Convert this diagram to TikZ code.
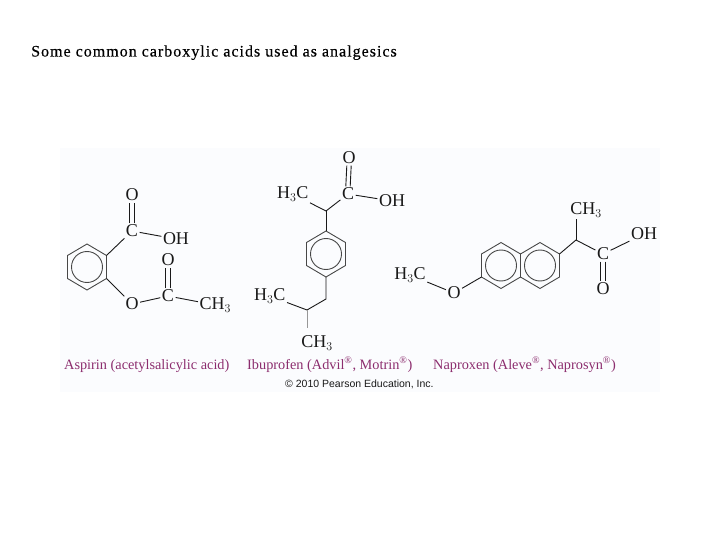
\documentclass[tikz,border=0pt]{standalone}
\usepackage{fontspec}
\setmainfont{Liberation Serif}
\setsansfont{Liberation Sans}
\newfontfamily\titlefont[LetterSpace=6.3,FakeBold=0.35]{Liberation Serif}
\definecolor{panel}{RGB}{251,252,254}
\definecolor{namecol}{RGB}{140,45,110}
\definecolor{inkcol}{RGB}{25,25,25}
\tikzset{
  atom/.style={font=\fontsize{18}{18}\selectfont,text=inkcol,inner sep=1.6pt,outer sep=0pt,yshift=-1pt},
  drugname/.style={font=\fontsize{14.3}{16}\selectfont,text=namecol,inner sep=0pt,anchor=base west},
  bond/.style={draw=inkcol,line width=0.9pt},
  ringb/.style={draw=inkcol!80,line width=0.9pt},
  ringc/.style={draw=inkcol!80,line width=0.9pt,circle,minimum size=31pt,inner sep=0pt},
  title/.style={font=\titlefont\fontsize{16}{18}\selectfont,text=black,inner sep=0pt,anchor=base west},
  credit/.style={font=\sffamily\fontsize{10.5}{12}\selectfont,text=inkcol,inner sep=0pt,anchor=base west}
}
\newcommand{\ringat}[2]{%
  \coordinate (#1a) at (#2,-23);
  \coordinate (#1b) at (#2+19.5,-11.5);
  \coordinate (#1c) at (#2+19.5,11.5);
  \coordinate (#1d) at (#2,23);
  \coordinate (#1e) at (#2-19.5,11.5);
  \coordinate (#1f) at (#2-19.5,-11.5);
}
\newcommand{\regmark}{\textsuperscript{\textregistered}}
\begin{document}
\begin{tikzpicture}[x=1pt,y=-1pt]
\useasboundingbox (0,0) rectangle (720,540);
\fill[panel] (60,148) rectangle (660,392);
\node[title] (heading) at (31,56.5) {Some common carboxylic acids used as analgesics};

% Aspirin
\begin{scope}[shift={(87,267)}]
\ringat{A}{0}
\draw[ringb] (Aa)--(Ab)--(Ac)--(Ad)--(Ae)--(Af)--cycle;
\node[ringc] (Acirc) at (0,0) {};
\end{scope}
\node[atom] (aC1) at (132,230) {C};
\node[atom] (aO1) at (132,194) {O};
\node[atom] (aOH) at (176,238) {OH};
\node[atom] (aO2) at (132,303) {O};
\node[atom] (aC2) at (168,295) {C};
\node[atom] (aO3) at (168,259) {O};
\node[atom,anchor=west] (aCH) at (198,304) {CH$_3$};
\draw[bond] (Ab) -- (aC1);
\draw[bond] (Ac) -- (aO2);
\draw[bond] (aC1) -- (aOH);
\draw[bond] (aO2) -- (aC2);
\draw[bond] (aC2) -- (aCH);
\draw[bond] ([xshift=-2.2pt]aC1.north) -- ([xshift=-2.2pt]aO1.south);
\draw[bond] ([xshift=2.2pt]aC1.north) -- ([xshift=2.2pt]aO1.south);
\draw[bond] ([xshift=-2.2pt]aC2.north) -- ([xshift=-2.2pt]aO3.south);
\draw[bond] ([xshift=2.2pt]aC2.north) -- ([xshift=2.2pt]aO3.south);

% Ibuprofen
\begin{scope}[shift={(326,254)}]
\ringat{B}{0}
\draw[ringb] (Ba)--(Bb)--(Bc)--(Bd)--(Be)--(Bf)--cycle;
\node[ringc] (Bcirc) at (0,0) {};
\end{scope}
\coordinate (bCH) at (326,211);
\coordinate (bCH2) at (326,299);
\coordinate (bCH3) at (307,310);
\node[atom] (bO) at (349,157) {O};
\node[atom] (bC) at (348,193) {C};
\node[atom] (bOH) at (392,200) {OH};
\node[atom,anchor=east] (bMe) at (310,193) {H$_3$C};
\node[atom,anchor=east] (bMe2) at (287,295) {H$_3$C};
\node[atom] (bMe3) at (317,342) {CH$_3$};
\draw[bond] (bMe) -- (bCH) -- (bC);
\draw[bond] (bCH) -- (Ba);
\draw[bond] (bC) -- (bOH);
\draw[bond] (Bd) -- (bCH2) -- (bCH3) -- (bMe2);
\draw[draw=inkcol!45,line width=0.9pt] (bCH3) -- (307,328);
\draw[bond] ([xshift=-2.2pt]bC.north) -- ([xshift=-2.2pt]bO.south);
\draw[bond] ([xshift=2.2pt]bC.north) -- ([xshift=2.2pt]bO.south);

% Naproxen
\begin{scope}[shift={(501,265.5)}]
\ringat{C}{0}
\draw[ringb] (Ca)--(Cb)--(Cc)--(Cd)--(Ce)--(Cf)--cycle;
\node[ringc] (Ccirc) at (0,0) {};
\end{scope}
\begin{scope}[shift={(540,265.5)}]
\ringat{D}{0}
\draw[ringb] (Da)--(Db)--(Dc)--(Dd)--(De)--(Df)--cycle;
\node[ringc] (Dcirc) at (0,0) {};
\end{scope}
\coordinate (cCH) at (576,240);
\node[atom] (cMeO) at (410,274) {H$_3$C};
\node[atom] (cO) at (454,292) {O};
\node[atom] (cMe) at (586,209) {CH$_3$};
\node[atom] (cC) at (603,253) {C};
\node[atom] (cOH) at (644,233) {OH};
\node[atom] (cO2) at (603,288) {O};
\draw[bond] (cMeO) -- (cO);
\draw[bond] (cO) -- (Ce);
\draw[bond] (Db) -- (cCH) -- (cC);
\draw[bond] (cCH) -- (cMe.south -| cCH);
\draw[bond] (cC) -- (cOH);
\draw[bond] ([xshift=-2.2pt]cC.south) -- ([xshift=-2.2pt]cO2.north);
\draw[bond] ([xshift=2.2pt]cC.south) -- ([xshift=2.2pt]cO2.north);

% Names
\node[drugname] (n1) at (64,369) {Aspirin (acetylsalicylic acid)};
\node[drugname] (n2) at (247,369) {Ibuprofen (Advil\regmark, Motrin\regmark)};
\node[drugname] (n3) at (433,369) {Naproxen (Aleve\regmark, Naprosyn\regmark)};
\node[credit] (copy) at (285,387) {\textcopyright{} 2010 Pearson Education, Inc.};
\end{tikzpicture}
\end{document}
